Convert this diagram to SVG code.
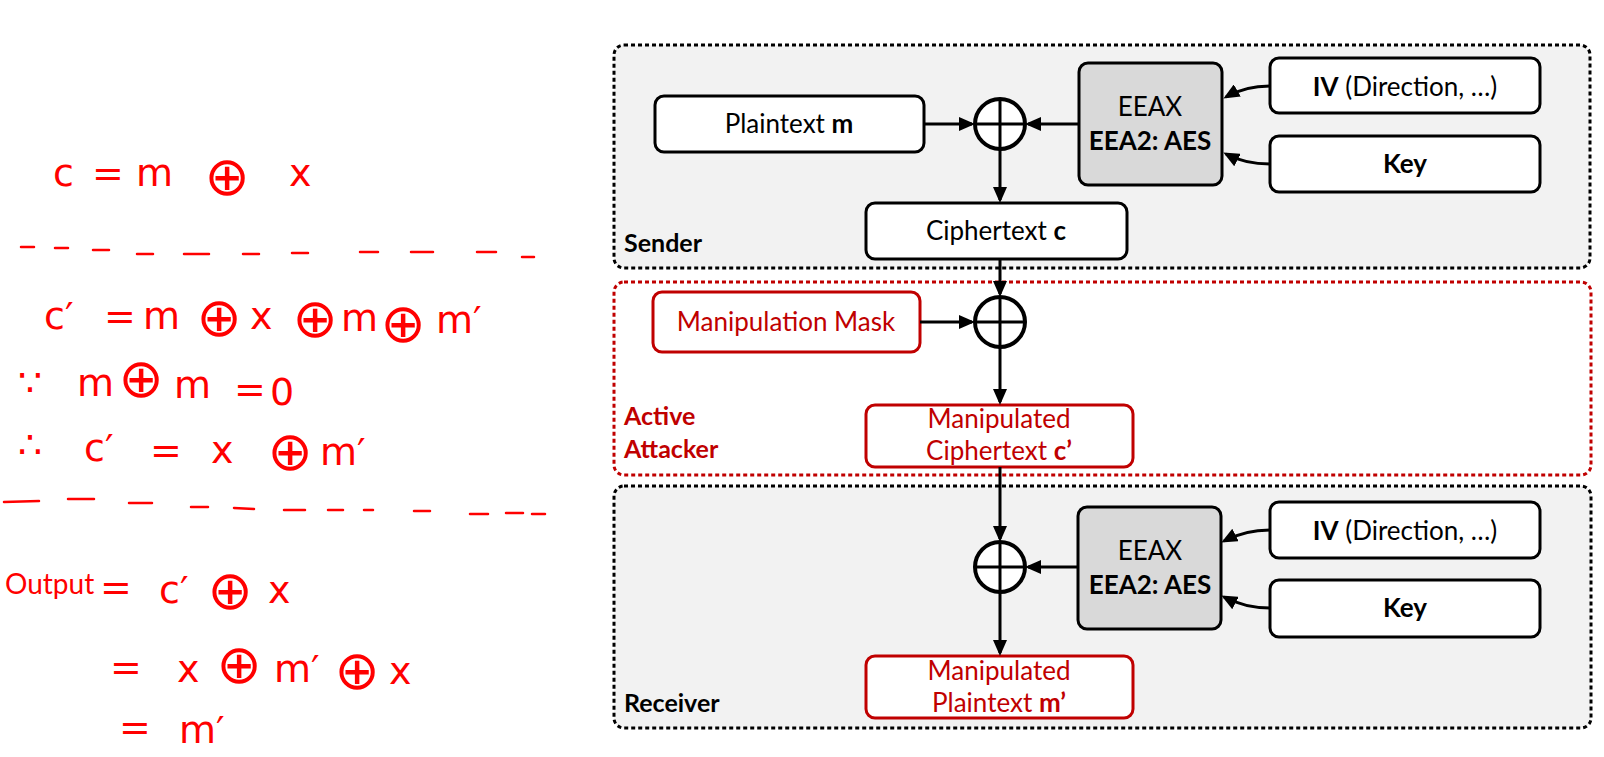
<svg xmlns="http://www.w3.org/2000/svg" width="1604" height="757" viewBox="0 0 1604 757">
<style>
.t{font-family:Lato,"Liberation Sans",sans-serif;font-size:26px;fill:#000;text-anchor:middle}
.b{font-weight:bold}
.r{fill:#c00000}
.lbl{font-family:Lato,"Liberation Sans",sans-serif;font-size:25px;font-weight:bold;text-anchor:start}
.box{fill:#fff;stroke:#000;stroke-width:3}
.rbox{fill:#fff;stroke:#c00000;stroke-width:3}
.gbox{fill:#d9d9d9;stroke:#000;stroke-width:3}
.cont{fill:#f2f2f2;stroke:#000;stroke-width:3;stroke-dasharray:4 3}
.rcont{fill:none;stroke:#c00000;stroke-width:3;stroke-dasharray:4 3}
.xor{fill:#fff;stroke:#000;stroke-width:4}
.xl{stroke:#000;stroke-width:3}
.c{fill:none;stroke:#000;stroke-width:3;marker-end:url(#ah)}
.hw{font-family:"DejaVu Sans",sans-serif;font-size:38px;fill:#ff0000}
.ox{font-family:"DejaVu Sans",sans-serif;font-size:54px;fill:#ff0000;text-anchor:middle}
.dash{fill:none;stroke:#ff0000;stroke-width:2.5;stroke-linecap:round}
</style>
<defs>
<marker id="ah" markerUnits="userSpaceOnUse" markerWidth="16" markerHeight="14" refX="13" refY="7" orient="auto">
<path d="M0,0 L16,7 L0,14 z" fill="#000"/>
</marker>
</defs>

<g id="sender">
<rect class="cont" x="614" y="45" width="976" height="223" rx="10"/>
<text class="lbl" x="624" y="252">Sender</text>
</g>
<g id="attacker">
<rect class="rcont" x="614" y="282" width="977" height="193" rx="10"/>
<text class="lbl r" x="624" y="425">Active</text>
<text class="lbl r" x="624" y="458">Attacker</text>
</g>
<g id="receiver">
<rect class="cont" x="614" y="486" width="977" height="242" rx="10"/>
<text class="lbl" x="624" y="712">Receiver</text>
</g>

<g id="plaintext">
<rect class="box" x="655" y="96" width="269" height="56" rx="9"/>
<text class="t" x="789" y="133">Plaintext <tspan class="b">m</tspan></text>
</g>
<g id="xor1">
<circle class="xor" cx="1000" cy="124" r="25"/>
<line class="xl" x1="1000" y1="99" x2="1000" y2="149"/>
<line class="xl" x1="975" y1="124" x2="1025" y2="124"/>
</g>
<g id="eeax1">
<rect class="gbox" x="1079" y="63" width="143" height="122" rx="9"/>
<text class="t" x="1150" y="116">EEAX</text>
<text class="t b" x="1150" y="150">EEA2: AES</text>
</g>
<g id="iv1">
<rect class="box" x="1270" y="58" width="270" height="55" rx="9"/>
<text class="t" x="1405" y="96"><tspan class="b">IV</tspan> (Direction, …)</text>
</g>
<g id="key1">
<rect class="box" x="1270" y="136" width="270" height="56" rx="9"/>
<text class="t b" x="1405" y="173">Key</text>
</g>
<g id="ciphertext">
<rect class="box" x="866" y="203" width="261" height="56" rx="9"/>
<text class="t" x="996" y="240">Ciphertext <tspan class="b">c</tspan></text>
</g>

<g id="mask">
<rect class="rbox" x="653" y="292" width="267" height="60" rx="9"/>
<text class="t r" x="786" y="331">Manipulation Mask</text>
</g>
<g id="xor2">
<circle class="xor" cx="1000" cy="322" r="25"/>
<line class="xl" x1="1000" y1="297" x2="1000" y2="347"/>
<line class="xl" x1="975" y1="322" x2="1025" y2="322"/>
</g>
<g id="manip-cipher">
<rect class="rbox" x="866" y="405" width="267" height="62" rx="9"/>
<text class="t r" x="999" y="428">Manipulated</text>
<text class="t r" x="999" y="460">Ciphertext <tspan class="b">c’</tspan></text>
</g>

<g id="xor3">
<circle class="xor" cx="1000" cy="567" r="25"/>
<line class="xl" x1="1000" y1="542" x2="1000" y2="592"/>
<line class="xl" x1="975" y1="567" x2="1025" y2="567"/>
</g>
<g id="eeax2">
<rect class="gbox" x="1078" y="507" width="143" height="122" rx="9"/>
<text class="t" x="1150" y="560">EEAX</text>
<text class="t b" x="1150" y="594">EEA2: AES</text>
</g>
<g id="iv2">
<rect class="box" x="1270" y="502" width="270" height="56" rx="9"/>
<text class="t" x="1405" y="540"><tspan class="b">IV</tspan> (Direction, …)</text>
</g>
<g id="key2">
<rect class="box" x="1270" y="580" width="270" height="57" rx="9"/>
<text class="t b" x="1405" y="617">Key</text>
</g>
<g id="manip-plain">
<rect class="rbox" x="866" y="656" width="267" height="62" rx="9"/>
<text class="t r" x="999" y="680">Manipulated</text>
<text class="t r" x="999" y="712">Plaintext <tspan class="b">m’</tspan></text>
</g>

<g id="connectors">
<path class="c" d="M924,124 L972,124"/>
<path class="c" d="M1079,124 L1028,124"/>
<path class="c" d="M1000,149 L1000,200"/>
<path class="c" d="M1000,259 L1000,294"/>
<path class="c" d="M920,322 L972,322"/>
<path class="c" d="M1000,347 L1000,402"/>
<path class="c" d="M1000,467 L1000,539"/>
<path class="c" d="M1078,567 L1028,567"/>
<path class="c" d="M1000,592 L1000,653"/>
<path class="c" d="M1270,86 Q1245,86 1226,97"/>
<path class="c" d="M1270,164 Q1245,164 1226,154"/>
<path class="c" d="M1270,530 Q1245,530 1224,541"/>
<path class="c" d="M1270,608 Q1245,608 1224,597"/>
</g>

<g id="notes">
<text class="hw" x="53" y="186">c</text>
<text class="hw" x="92" y="186">=</text>
<text class="hw" x="136" y="186">m</text>
<text class="ox" x="227" y="195">⊕</text>
<text class="hw" x="289" y="186">x</text>
<path class="dash" d="M21,247 L34,247 M55,248 L68,248 M93,250 L109,250 M137,254 L153,254 M184,254 L209,254 M243,254 L259,254 M292,253 L308,253 M360,252 L378,252 M411,252 L433,252 M477,252 L496,252 M522,257 L534,257"/>
<text class="hw" x="44" y="329">c′</text>
<text class="hw" x="104" y="329">=</text>
<text class="hw" x="143" y="329">m</text>
<text class="ox" x="219" y="336">⊕</text>
<text class="hw" x="250" y="329">x</text>
<text class="ox" x="315" y="337">⊕</text>
<text class="hw" x="341" y="331">m</text>
<text class="ox" x="403" y="342">⊕</text>
<text class="hw" x="436" y="333">m′</text>
<text class="hw" x="18" y="396" font-size="30">∵</text>
<text class="hw" x="77" y="396">m</text>
<text class="ox" x="141" y="397">⊕</text>
<text class="hw" x="174" y="398">m</text>
<text class="hw" x="234" y="402">=</text>
<text class="hw" x="270" y="405">0</text>
<text class="hw" x="18" y="458" font-size="30">∴</text>
<text class="hw" x="84" y="461">c′</text>
<text class="hw" x="150" y="463">=</text>
<text class="hw" x="211" y="463">x</text>
<text class="ox" x="290" y="470">⊕</text>
<text class="hw" x="320" y="465">m′</text>
<path class="dash" d="M4,502 L39,501 M68,499 L94,499 M129,503 L152,503 M191,507 L208,507 M234,508 L254,509 M284,510 L305,510 M328,510 L343,510 M364,510 L373,510 M414,511 L430,511 M470,514 L488,514 M506,513 L523,513 M532,514 L545,514"/>
<text x="5" y="594" style="font-family:Lato,'Liberation Sans',sans-serif;font-size:28px;fill:#ff0000">Output</text>
<text class="hw" x="100" y="600">=</text>
<text class="hw" x="159" y="603">c′</text>
<text class="ox" x="230" y="609">⊕</text>
<text class="hw" x="268" y="603">x</text>
<text class="hw" x="110" y="680">=</text>
<text class="hw" x="177" y="682">x</text>
<text class="ox" x="239" y="683">⊕</text>
<text class="hw" x="274" y="682">m′</text>
<text class="ox" x="357" y="689">⊕</text>
<text class="hw" x="389" y="684">x</text>
<text class="hw" x="119" y="740">=</text>
<text class="hw" x="179" y="743">m′</text>
</g>
</svg>
